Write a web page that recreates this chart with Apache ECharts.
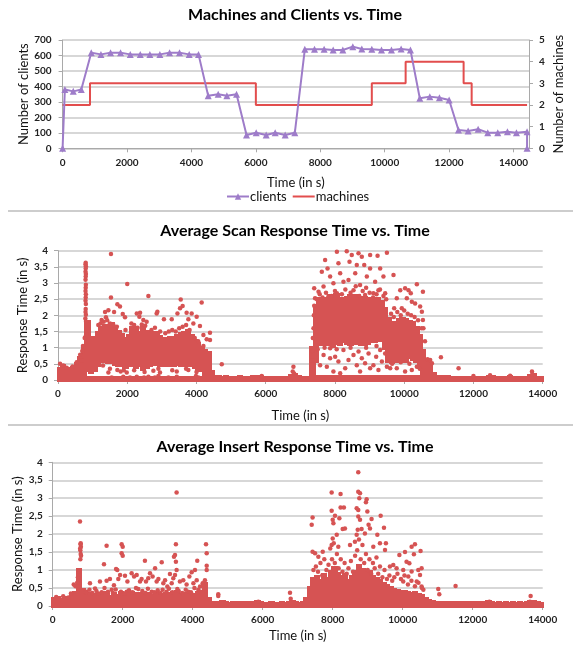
<!DOCTYPE html>
<html>
<head>
<meta charset="utf-8">
<title>Machines, Clients and Response Times</title>
<script src="https://cdn.jsdelivr.net/npm/echarts@6/dist/echarts.min.js"></script>
<style>
  html, body { margin: 0; padding: 0; background: #fff; }
  #chart { width: 573px; height: 646px; }
</style>
</head>
<body>
<div id="chart"></div>
<script>
// ---- top panel: clients (left axis) and machines (right axis)
const clientTimes = [0, 70, 330, 580, 890, 1190, 1490, 1800, 2100, 2410, 2710, 3020, 3320, 3630, 3930, 4220,
  4520, 4830, 5100, 5400, 5710, 6010, 6320, 6600, 6910, 7210, 7520, 7820, 8120, 8400, 8700, 9010, 9290,
  9600, 9900, 10210, 10510, 10800, 11090, 11400, 11700, 12000, 12290, 12590, 12900, 13200, 13510, 13810,
  14090, 14420, 14420];
const clientCounts = [0, 380, 368, 380, 618, 607, 618, 618, 607, 607, 607, 607, 618, 618, 607, 607,
  340, 349, 340, 349, 86, 101, 86, 101, 86, 101, 640, 640, 640, 635, 635, 657, 642,
  640, 635, 635, 642, 635, 323, 334, 327, 312, 118, 112, 123, 101, 101, 107,
  101, 107, 0];
const machineTimes = [0, 850, 6000, 9600, 10650, 12450, 12700, 14420];
const machineCounts = [2, 3, 2, 3, 4, 3, 2, 2];

const timeTicks = [0, 2000, 4000, 6000, 8000, 10000, 12000, 14000];
const clientTicks = [0, 100, 200, 300, 400, 500, 600, 700];
const machineTicks = [0, 1, 2, 3, 4, 5];
const responseTicks = [0, 0.5, 1, 1.5, 2, 2.5, 3, 3.5, 4];

// the scatter clouds are read in 100 s slices: the dense part of each slice (low..high),
// a thin strip of readings close to 0, and the single readings outside the dense part
const SLICE = 100;

// ---- middle panel: scan response time
const scanCoreLow = [
  0, 0, 0, 0, 0.02, 0.05, 0.1, 0.15, 0.3, 0.25,
  0.3, 0.45, 0.6, 0.6, 0.55, 0.55, 0.5, 0.45, 0.45, 0.4,
  0.45, 0.45, 0.4, 0.45, 0.35, 0.4, 0.45, 0.5, 0.5, 0.45,
  0.45, 0.5, 0.45, 0.45, 0.5, 0.45, 0.45, 0.5, 0.45, 0.4,
  0.35, 0.3, 0.2, 0.05, 0, null, null, null, null, null,
  null, null, null, null, null, null, null, null, null, null,
  null, null, null, null, null, null, null, null, null, null,
  null, null, null, 0, 0.6, 1.1, 1.15, 1.1, 1.1, 1.05,
  1.15, 1.1, 1.2, 1.15, 1.1, 1.2, 1.15, 1.1, 1.1, 1.15,
  1.2, 1.2, 1.25, 1.25, 1.0, 0.6, 0.55, 0.6, 0.65, 0.6,
  0.6, 0.7, 0.65, 0.6, 0.4, 0.1, 0, 0, 0
];
const scanCoreHigh = [
  0.35, 0.42, 0.3, 0.33, 0.38, 0.5, 0.68, 0.95, 1.8, 1.1,
  1.3, 1.45, 1.6, 1.68, 1.62, 1.72, 1.55, 1.5, 1.38, 1.28,
  1.35, 1.62, 1.52, 1.45, 1.6, 1.5, 1.48, 1.38, 1.45, 1.32,
  1.28, 1.22, 1.3, 1.26, 1.35, 1.42, 1.45, 1.52, 1.35, 1.2,
  1.1, 1.0, 0.9, 0.85, 0.25, null, null, null, null, null,
  null, null, null, null, null, null, null, null, null, null,
  null, null, null, null, null, null, null, null, null, null,
  null, null, null, 1.0, 2.3, 2.5, 2.4, 2.5, 2.6, 2.5,
  2.62, 2.45, 2.5, 2.55, 2.6, 2.45, 2.6, 2.5, 2.55, 2.45,
  2.5, 2.4, 2.5, 2.4, 2.2, 1.9, 1.7, 1.75, 1.85, 1.9,
  1.85, 1.8, 1.75, 1.6, 1.35, 0.9, 0.6, 0.45, 0.2
];
const scanFloor = [
  0.06, 0.06, 0.06, 0.06, 0.06, 0.06, 0.06, 0.06, 0.06, 0.06,
  0.06, 0.06, 0.06, 0.06, 0.06, 0.06, 0.06, 0.06, 0.06, 0.06,
  0.06, 0.06, 0.06, 0.06, 0.06, 0.06, 0.06, 0.06, 0.06, 0.06,
  0.06, 0.06, 0.06, 0.06, 0.06, 0.06, 0.06, 0.06, 0.06, 0.06,
  0.06, 0.06, 0.06, 0.06, 0.08, 0.1, 0.08, 0.07, 0.09, 0.07,
  0.07, 0.06, 0.08, 0.07, 0.06, 0.07, 0.08, 0.06, 0.1, 0.07,
  0.06, 0.07, 0.06, 0.06, 0.07, 0.06, 0.07, 0.12, 0.15, 0.08,
  0.06, 0.07, 0.07, 0.12, 0.1, 0.1, 0.1, 0.1, 0.1, 0.1,
  0.1, 0.1, 0.1, 0.1, 0.1, 0.1, 0.1, 0.1, 0.1, 0.1,
  0.1, 0.1, 0.1, 0.1, 0.1, 0.1, 0.1, 0.1, 0.1, 0.1,
  0.1, 0.1, 0.1, 0.1, 0.1, 0.1, 0.1, 0.1, 0.1, 0.08,
  0.08, 0.07, 0.08, 0.06, 0.07, 0.07, 0.06, 0.07, 0.06, 0.07,
  0.06, 0.07, 0.06, 0.07, 0.1, 0.08, 0.07, 0.06, 0.07, 0.06,
  0.09, 0.07, 0.06, 0.07, 0.06, 0.07, 0.12, 0.14, 0.07, 0.06
];
const scanDots = [
  [800, 3.63], [795, 3.58], [805, 3.52], [800, 3.45], [795, 3.35], [805, 3.28], [800, 3.2], [795, 3.1],
  [805, 2.95], [800, 2.85], [795, 2.75], [805, 2.65], [800, 2.55], [795, 2.45], [805, 2.35], [800, 2.2],
  [795, 2.1], [805, 2.02], [790, 1.9], [810, 1.8], [800, 1.35], [770, 1.3], [830, 1.4],
  [1530, 3.9], [1530, 2.55], [2000, 2.97], [2610, 2.6], [3545, 2.49], [4150, 2.4],
  [1455, 2.16], [1360, 2.1], [1715, 2.34], [1790, 2.27], [1620, 2.1], [1870, 2.04], [1935, 1.94],
  [2275, 2.06], [2370, 2.08], [2350, 1.96], [2465, 1.86], [2560, 1.8], [2850, 2.06], [2870, 2.11],
  [3060, 1.88], [3285, 1.88], [3450, 2.06], [3525, 2.22], [3600, 2.29], [3715, 2.08], [3860, 2.06],
  [3765, 1.88], [3910, 1.75], [4005, 1.96], [4100, 1.67], [4200, 1.39], [4295, 1.26], [4390, 1.46],
  [4390, 1.24], [4730, 0.49], [1385, 1.94], [1260, 1.86], [1165, 1.7],
  [1230, 1.75], [1320, 1.8], [1420, 1.85], [1500, 1.75], [1600, 1.7], [1700, 1.65], [1950, 1.55],
  [2120, 1.75], [2200, 1.7], [2300, 1.62], [2420, 1.72], [2520, 1.68], [2700, 1.55], [2800, 1.62],
  [2950, 1.5], [3100, 1.45], [3200, 1.5], [3300, 1.55], [3400, 1.5], [3500, 1.6], [3600, 1.65],
  [3700, 1.7], [3800, 1.55], [3950, 1.3], [4050, 1.2], [4200, 1.05],
  [1455, 0.23], [1550, 0.08], [1675, 0.05], [1885, 0.1], [2080, 0.08], [2275, 0.1], [2370, 0.05],
  [2485, 0.08], [2610, 0.1], [2800, 0.08], [2900, 0.12], [3190, 0.08], [3315, 0.05], [3430, 0.1],
  [3525, 0.05], [3985, 0.12], [4055, 0.08], [1985, 0.23], [1810, 0.26], [1715, 0.31], [2755, 0.29],
  [2945, 0.23], [3430, 0.26], [3765, 0.31], [1300, 0.45], [1500, 0.35], [1900, 0.3], [2200, 0.3],
  [2500, 0.25], [2900, 0.35], [3300, 0.3], [3700, 0.35], [4000, 0.25],
  [5885, 0.12], [6800, 0.41], [6780, 0.26], [6820, 0.2],
  [60, 0.5], [150, 0.45], [250, 0.38], [420, 0.42], [540, 0.55], [640, 0.78], [700, 0.9], [720, 1.05], [680, 0.6],
  [7340, 0.9], [7360, 1.3], [7380, 1.6], [7390, 2.0], [7400, 2.3], [7350, 0.6],
  [7715, 3.71], [8055, 3.97], [8340, 3.98], [8485, 3.87], [8680, 3.92], [8775, 3.81], [9015, 3.87],
  [9230, 3.84], [9500, 3.94], [8420, 3.66], [8845, 3.56], [9015, 3.45], [9690, 3.25], [10365, 2.96],
  [10540, 2.73], [7620, 3.35], [7860, 3.2], [8150, 3.3], [8585, 3.3], [8920, 3.2], [9305, 3.45],
  [9400, 3.2], [9160, 3.04], [8245, 3.04], [7955, 2.99], [7670, 2.89], [7525, 2.73], [8725, 2.94],
  [9255, 2.78], [9450, 2.68], [7400, 2.84], [7425, 2.53], [8535, 2.78], [8055, 2.68], [9110, 2.68],
  [7810, 2.58], [8870, 2.63], [8390, 3.09], [8630, 3.56], [8100, 3.61], [7785, 3.45],
  [7480, 2.5], [7560, 2.65], [7640, 2.55], [7740, 2.7], [7900, 2.6], [8000, 2.75], [8200, 2.65],
  [8300, 2.8], [8450, 2.7], [8600, 2.9], [8700, 2.6], [8800, 2.75], [8900, 2.85], [9000, 2.7],
  [9100, 2.55], [9200, 2.65], [9300, 2.8], [9400, 2.6], [9480, 2.5],
  [9885, 2.78], [10025, 2.84], [10125, 2.78], [10190, 2.68], [10075, 2.53], [10220, 2.42], [9785, 2.53],
  [10315, 2.37], [10460, 2.27], [10510, 2.11], [10540, 1.86], [10555, 1.6], [9710, 2.22], [9930, 2.22],
  [9620, 2.05], [9700, 1.95], [9800, 2.1], [9900, 2.0], [10000, 2.15], [10100, 2.05], [10200, 2.0],
  [10300, 1.95], [10400, 1.85], [10500, 1.6], [10600, 1.2],
  [7570, 0.46], [7670, 0.77], [7765, 0.41], [7860, 0.67], [7955, 0.26], [8005, 0.72], [8100, 0.57],
  [8150, 0.21], [8295, 0.36], [8390, 0.62], [8535, 0.77], [8630, 0.46], [8725, 0.26], [8775, 0.67],
  [8870, 0.52], [8970, 0.82], [9015, 0.36], [9110, 0.46], [9190, 0.72], [9255, 0.31], [9355, 0.57],
  [9450, 0.82], [9500, 0.41], [8245, 0.93], [7860, 0.98], [8680, 0.88], [9305, 0.93], [9595, 0.36],
  [7500, 0.95], [7700, 1.0], [8050, 0.95], [8450, 1.0], [8900, 1.0], [9200, 1.05],
  [9785, 0.36], [10025, 0.26], [10220, 0.31], [10365, 0.41], [9650, 0.5], [9900, 0.55], [10150, 0.5], [10450, 0.35],
  [10675, 0.64], [10750, 0.62], [10800, 0.52], [11060, 0.7], [11570, 0.36], [13690, 0.26], [12480, 0.15],
  [13060, 0.13], [12000, 0.12], [13700, 0.18]
];

// ---- bottom panel: insert response time (dense part always starts at 0)
const insertCoreHigh = [
  0.2, 0.22, 0.18, 0.21, 0.2, 0.28, 0.35, 1.0, 0.45, 0.3,
  0.34, 0.26, 0.32, 0.28, 0.36, 0.3, 0.25, 0.33, 0.29, 0.35,
  0.27, 0.31, 0.36, 0.28, 0.33, 0.3, 0.26, 0.34, 0.29, 0.37,
  0.31, 0.27, 0.33, 0.3, 0.36, 0.38, 0.3, 0.27, 0.34, 0.29,
  0.32, 0.36, 0.3, 0.6, 0.2, 0.08, 0.07, 0.08, 0.1, 0.07,
  0.06, 0.07, 0.07, 0.06, 0.07, 0.06, 0.07, 0.06, 0.1, 0.07,
  0.06, 0.06, 0.07, 0.06, 0.06, 0.07, 0.06, 0.08, 0.12, 0.07,
  0.06, 0.08, 0.2, 0.5, 0.75, 0.8, 0.7, 0.85, 0.75, 0.95,
  1.05, 0.9, 0.8, 0.85, 0.7, 0.8, 0.95, 1.1, 1.0, 0.9,
  0.95, 0.8, 0.75, 0.7, 0.6, 0.55, 0.5, 0.45, 0.42, 0.4,
  0.38, 0.35, 0.33, 0.36, 0.3, 0.28, 0.2, 0.15, 0.12, 0.08,
  0.07, 0.06, 0.07, 0.06, 0.07, 0.06, 0.07, 0.06, 0.07, 0.06,
  0.07, 0.06, 0.07, 0.06, 0.1, 0.07, 0.06, 0.07, 0.06, 0.07,
  0.06, 0.07, 0.06, 0.07, 0.06, 0.07, 0.12, 0.1, 0.07, 0.06
];
const insertDots = [
  [780, 2.35], [790, 1.3], [800, 1.45], [790, 1.55], [805, 1.65], [795, 1.72], [800, 1.75], [785, 1.6],
  [810, 1.4], [600, 0.6], [650, 0.55], [700, 0.65], [720, 0.8], [740, 0.95],
  [3540, 3.16], [1540, 1.68], [1970, 1.72], [2000, 1.65], [1970, 1.47], [2000, 1.4], [1465, 1.16],
  [1845, 1.0], [1810, 1.03], [2635, 1.26], [3115, 1.22], [3520, 1.72], [3495, 1.42], [3465, 1.37],
  [3520, 1.23], [3540, 1.0], [4130, 1.26], [4065, 1.0], [3970, 0.94], [4380, 1.72], [4400, 1.47],
  [4400, 1.12], [4400, 1.0], [2925, 1.05], [2780, 0.91], [3350, 0.89],
  [1065, 0.63], [1210, 0.49], [1350, 0.68], [1540, 0.7], [1635, 0.75], [1750, 0.58], [1875, 0.75],
  [1925, 0.86], [2065, 0.84], [2135, 0.68], [2255, 0.91], [2325, 0.82], [2400, 0.86], [2495, 0.68],
  [2540, 0.75], [2665, 0.68], [2730, 0.77], [2855, 0.82], [2970, 0.68], [3020, 0.75], [3160, 0.63],
  [3210, 0.72], [3275, 0.54], [3400, 0.63], [3445, 0.77], [3495, 0.86], [3635, 0.68], [3730, 0.72],
  [3825, 0.6], [3905, 0.82], [4020, 0.63], [4115, 0.72], [4210, 0.54], [4285, 0.63], [4350, 0.72],
  [970, 0.4], [1305, 0.35], [1685, 0.45], [2115, 0.4], [2445, 0.47], [2830, 0.4], [3140, 0.45],
  [3560, 0.47], [3875, 0.4], [4160, 0.45],
  [950, 0.38], [1050, 0.45], [1130, 0.36], [1250, 0.42], [1400, 0.38], [1480, 0.5], [1580, 0.4],
  [1720, 0.36], [1800, 0.46], [1950, 0.4], [2050, 0.35], [2180, 0.44], [2280, 0.38], [2380, 0.5],
  [2560, 0.42], [2650, 0.36], [2720, 0.48], [2900, 0.38], [3000, 0.44], [3080, 0.36], [3250, 0.4],
  [3320, 0.48], [3420, 0.38], [3600, 0.42], [3700, 0.36], [3800, 0.45], [3950, 0.38], [4050, 0.5],
  [4230, 0.4], [4300, 0.55], [100, 0.25], [300, 0.27], [450, 0.24], [520, 0.35],
  [4730, 0.33], [4730, 0.28], [5875, 0.12], [6780, 0.37], [6800, 0.2],
  [7400, 2.26], [7425, 2.46], [7425, 1.51], [7495, 1.47], [7590, 1.37], [7715, 1.51],
  [7970, 3.16], [8225, 3.12], [7970, 2.65], [8065, 2.51], [8000, 2.4], [8020, 2.3], [8190, 2.44],
  [8225, 2.74], [8320, 2.74], [8350, 2.16], [8285, 2.14], [8115, 1.98], [8000, 1.88], [7970, 1.7],
  [8160, 1.65], [8495, 1.7], [8635, 1.79],
  [8730, 3.72], [8730, 3.18], [8780, 3.14], [8760, 3.0], [8685, 2.72], [8730, 2.67], [8970, 2.97],
  [8950, 2.89], [8990, 2.63], [8730, 2.49], [8780, 2.4], [8715, 2.12], [8825, 2.14], [9110, 2.42],
  [9370, 2.51], [9025, 2.26], [9065, 2.16], [9275, 1.98], [9465, 2.18], [9350, 1.75], [9520, 1.75],
  [9160, 1.65], [9495, 1.56], [8685, 1.98], [8920, 2.02],
  [9905, 1.42], [10065, 1.5], [10255, 1.65], [10350, 1.72], [10320, 1.44], [10510, 1.53], [10540, 1.05],
  [10110, 1.23], [10190, 1.19], [9730, 1.14], [9635, 1.1], [9825, 1.05], [10015, 1.0], [10255, 0.96],
  [10445, 1.0], [10495, 0.86], [10400, 0.68], [10160, 0.82], [10015, 0.68], [10540, 0.54], [10590, 0.45],
  [11015, 0.47], [11045, 0.33], [11510, 0.56], [12475, 0.12], [13655, 0.28], [13635, 0.12],
  [7450, 1.0], [7520, 1.1], [7580, 0.95], [7650, 1.2], [7700, 0.85], [7760, 1.3], [7820, 1.0],
  [7880, 1.15], [7930, 1.6], [7980, 1.3], [8030, 1.75], [8060, 1.2], [8120, 1.45], [8170, 1.05],
  [8230, 1.3], [8280, 0.95], [8340, 1.2], [8400, 0.9], [8450, 1.05], [8520, 1.25], [8580, 0.95],
  [8640, 1.4], [8700, 1.55], [8750, 1.85], [8800, 1.3], [8850, 1.7], [8900, 1.2], [8950, 1.45],
  [9000, 1.0], [9050, 1.3], [9100, 0.9], [9150, 1.2], [9200, 1.05], [9250, 1.35], [9300, 0.9],
  [9350, 1.1], [9420, 0.8], [9480, 1.0], [9550, 0.75], [9620, 0.85], [9700, 0.7], [9760, 0.8],
  [9850, 0.9], [9950, 0.75], [10050, 0.85], [10150, 0.6], [10250, 0.7], [10350, 0.55], [10450, 0.65],
  [10550, 0.5]
];

const FONT = 'Lato, "Open Sans", sans-serif';
const DOT_RED = '#d65353';
const LINE_RED = '#e24d4d';
const PURPLE = '#9e7cc9';
const AXIS_GREY = '#a9a9a9';
const GRID_GREY = '#cacaca';

// slices -> [start, low, high] items for the custom series
function slices(lows, highs) {
    const out = [];
    highs.forEach((hi, i) => {
        if (hi === null) return;
        out.push([i * SLICE, lows ? lows[i] : 0, hi]);
    });
    return out;
}

const chart = echarts.init(document.getElementById('chart'));

const tickLabel = { fontFamily: FONT, fontSize: 10, fontWeight: 'bold', color: '#222' };
const nameStyle = { fontFamily: FONT, fontSize: 13, color: '#111' };

function timeAxis(gridIndex, max, gap) {
    return {
        type: 'value',
        gridIndex: gridIndex,
        min: timeTicks[0],
        max: max,
        interval: timeTicks[1] - timeTicks[0],
        name: 'Time (in s)',
        nameLocation: 'middle',
        nameGap: gap,
        nameMoveOverlap: false,
        nameTextStyle: nameStyle,
        axisLine: { lineStyle: { color: AXIS_GREY, width: 1 } },
        axisTick: { show: true, length: 4, lineStyle: { color: AXIS_GREY } },
        axisLabel: Object.assign({
            margin: 9,
            showMaxLabel: max === timeTicks[timeTicks.length - 1],
            formatter: v => String(v)
        }, tickLabel),
        splitLine: { show: false }
    };
}

function responseAxis(gridIndex, gap) {
    return {
        type: 'value',
        gridIndex: gridIndex,
        min: responseTicks[0],
        max: responseTicks[responseTicks.length - 1],
        interval: responseTicks[1] - responseTicks[0],
        name: 'Response Time (in s)',
        nameLocation: 'middle',
        nameGap: gap,
        nameMoveOverlap: false,
        nameTextStyle: nameStyle,
        axisLine: { show: true, lineStyle: { color: AXIS_GREY } },
        axisTick: { show: true, length: 4, lineStyle: { color: AXIS_GREY } },
        axisLabel: Object.assign({ margin: 10, formatter: v => String(v).replace('.', ',') }, tickLabel),
        splitLine: { lineStyle: { color: GRID_GREY, width: 1.5 } }
    };
}

// a dense slice of a cloud, drawn as a filled block on the panel's own axes
// (snapped to whole pixels so that neighbouring slices join without seams)
function sliceItem(params, api) {
    const top = api.coord([api.value(0), api.value(2)]);
    const bottom = api.coord([api.value(0), api.value(1)]);
    const right = api.coord([api.value(0) + SLICE, api.value(1)]);
    const x0 = Math.floor(top[0] - 1);
    const x1 = Math.ceil(right[0] + 1);
    const y0 = Math.floor(top[1] - 1.5);
    const y1 = Math.ceil(bottom[1] + 1.5);
    return {
        type: 'rect',
        shape: { x: x0, y: y0, width: x1 - x0, height: y1 - y0 },
        style: { fill: DOT_RED, opacity: 1, stroke: null, lineWidth: 0 }
    };
}

function sliceSeries(name, axisIndex, data) {
    return {
        name: name, type: 'custom', xAxisIndex: axisIndex, yAxisIndex: axisIndex + 1,
        renderItem: sliceItem, encode: { x: 0, y: [1, 2] },
        itemStyle: { opacity: 1 },
        data: data, silent: true
    };
}

const titleStyle = { fontFamily: FONT, fontSize: 16, fontWeight: 'bold', color: '#000' };

chart.setOption({
    animation: false,
    title: [
        { text: 'Machines and Clients vs. Time', left: 295, top: 7, textAlign: 'center', padding: 0, textStyle: titleStyle },
        { text: 'Average Scan Response Time vs. Time', left: 295, top: 223, textAlign: 'center', padding: 0, textStyle: titleStyle },
        { text: 'Average Insert Response Time vs. Time', left: 295, top: 439, textAlign: 'center', padding: 0, textStyle: titleStyle }
    ],
    legend: {
        data: [
            { name: 'clients' },
            { name: 'machines', icon: 'path://M0,3 L22,3 L22,5 L0,5 Z' }
        ],
        left: 226,
        top: 190,
        itemWidth: 22,
        itemHeight: 8,
        itemGap: 6,
        padding: 0,
        textStyle: { fontFamily: FONT, fontSize: 13, color: '#111', padding: [0, 0, 0, -4] }
    },
    graphic: [
        { type: 'line', shape: { x1: 8, y1: 211, x2: 573, y2: 211 }, style: { stroke: '#bdbdbd', lineWidth: 1.5 } },
        { type: 'line', shape: { x1: 8, y1: 425, x2: 573, y2: 425 }, style: { stroke: '#bdbdbd', lineWidth: 1.5 } }
    ],
    grid: [
        { left: 62.6, top: 40, width: 475.7, height: 108.3 },
        { left: 58, top: 250.7, width: 484.7, height: 129.3 },
        { left: 52.7, top: 462.3, width: 490, height: 143.7 }
    ],
    xAxis: [
        timeAxis(0, 14480, 28),
        timeAxis(1, 14000, 29),
        timeAxis(2, 14000, 23)
    ],
    yAxis: [
        {
            type: 'value', gridIndex: 0,
            min: clientTicks[0], max: clientTicks[clientTicks.length - 1], interval: clientTicks[1] - clientTicks[0],
            name: 'Number of clients', nameLocation: 'middle', nameGap: 32, nameMoveOverlap: false, nameTextStyle: nameStyle,
            axisLine: { show: true, lineStyle: { color: AXIS_GREY } },
            axisTick: { show: true, length: 4, lineStyle: { color: AXIS_GREY } },
            axisLabel: Object.assign({ margin: 11 }, tickLabel),
            splitLine: { lineStyle: { color: GRID_GREY, width: 1.5 } }
        },
        {
            type: 'value', gridIndex: 0, position: 'right',
            min: machineTicks[0], max: machineTicks[machineTicks.length - 1], interval: machineTicks[1] - machineTicks[0],
            name: 'Number of machines', nameLocation: 'middle', nameGap: 23, nameMoveOverlap: false, nameTextStyle: nameStyle,
            axisLine: { show: true, lineStyle: { color: AXIS_GREY } },
            axisTick: { show: true, length: 4, lineStyle: { color: AXIS_GREY } },
            axisLabel: Object.assign({ margin: 10 }, tickLabel),
            splitLine: { show: false }
        },
        responseAxis(1, 29),
        responseAxis(2, 28)
    ],
    series: [
        {
            name: 'clients', type: 'line', xAxisIndex: 0, yAxisIndex: 0,
            data: clientTimes.map((t, i) => [t, clientCounts[i]]),
            symbol: 'triangle', symbolSize: 7, showSymbol: true,
            lineStyle: { color: PURPLE, width: 2 },
            itemStyle: { color: PURPLE },
            z: 3
        },
        {
            name: 'machines', type: 'line', xAxisIndex: 0, yAxisIndex: 1, step: 'end',
            data: machineTimes.map((t, i) => [t, machineCounts[i]]),
            symbol: 'none',
            lineStyle: { color: LINE_RED, width: 2 },
            itemStyle: { color: LINE_RED },
            z: 2
        },
        sliceSeries('scanFloor', 1, slices(null, scanFloor)),
        sliceSeries('scanCore', 1, slices(scanCoreLow, scanCoreHigh)),
        {
            name: 'scan', type: 'scatter', xAxisIndex: 1, yAxisIndex: 2,
            data: scanDots, symbolSize: 4.5, itemStyle: { color: DOT_RED, opacity: 1 }
        },
        sliceSeries('insertCore', 2, slices(null, insertCoreHigh)),
        {
            name: 'insert', type: 'scatter', xAxisIndex: 2, yAxisIndex: 3,
            data: insertDots, symbolSize: 4.5, itemStyle: { color: DOT_RED, opacity: 1 }
        }
    ]
});
</script>
</body>
</html>
